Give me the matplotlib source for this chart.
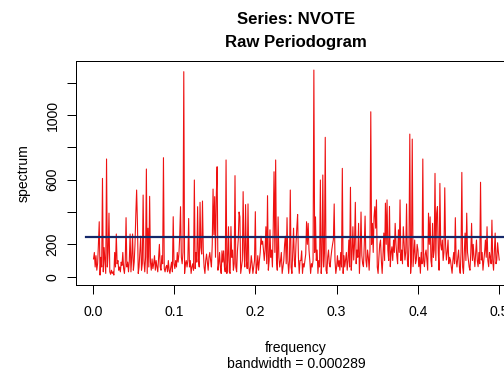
import numpy as np
import matplotlib
matplotlib.use("Agg")
import matplotlib.pyplot as plt

plt.rcParams['font.family'] = ['Liberation Sans', 'DejaVu Sans']

# Frequencies k/1000, k = 1..500
freq = np.arange(1, 501) / 1000.0

spectrum = [
    110, 150, 60, 130, 40, 80, 200, 340, 10, 120,
    60, 608, 30, 180, 100, 20, 728, 60, 150, 393,
    30, 15, 40, 20, 30, 10, 150, 60, 264, 80,
    100, 40, 60, 30, 90, 70, 150, 50, 20, 90,
    365, 60, 90, 30, 100, 264, 30, 120, 264, 40,
    90, 200, 385, 536, 330, 20, 60, 150, 250, 40,
    80, 505, 100, 30, 120, 666, 20, 300, 60, 497,
    90, 40, 110, 50, 80, 130, 40, 100, 60, 30,
    110, 200, 60, 40, 130, 80, 736, 50, 30, 60,
    70, 30, 100, 40, 20, 60, 90, 30, 371, 80,
    50, 100, 60, 150, 90, 140, 250, 433, 120, 80,
    150, 1268, 20, 80, 100, 60, 100, 360, 60, 100,
    20, 60, 80, 40, 598, 50, 150, 90, 433, 100,
    60, 460, 180, 140, 468, 160, 60, 20, 100, 140,
    90, 40, 120, 150, 100, 60, 200, 542, 260, 495,
    120, 500, 680, 40, 80, 150, 60, 20, 160, 90,
    160, 60, 30, 722, 20, 100, 309, 30, 20, 310,
    120, 165, 40, 80, 625, 60, 30, 160, 230, 400,
    370, 20, 60, 100, 526, 160, 60, 446, 100, 50,
    450, 60, 20, 60, 130, 80, 20, 60, 100, 402,
    20, 60, 130, 40, 100, 150, 250, 200, 220, 165,
    100, 165, 309, 80, 501, 40, 100, 290, 120, 165,
    60, 300, 649, 150, 722, 100, 40, 370, 120, 60,
    100, 150, 20, 60, 100, 200, 250, 80, 365, 100,
    20, 100, 536, 60, 20, 150, 300, 100, 60, 200,
    300, 385, 120, 20, 100, 100, 160, 20, 80, 60,
    100, 140, 340, 200, 330, 165, 100, 20, 80, 60,
    100, 1278, 150, 370, 100, 165, 20, 100, 60, 598,
    20, 100, 629, 60, 150, 862, 40, 20, 120, 165,
    80, 60, 120, 165, 200, 230, 450, 100, 20, 60,
    130, 62, 100, 40, 150, 60, 670, 20, 130, 60,
    103, 150, 40, 100, 227, 60, 553, 40, 140, 309,
    103, 200, 460, 80, 165, 120, 330, 20, 150, 400,
    130, 80, 62, 200, 375, 103, 60, 165, 120, 40,
    165, 1020, 200, 330, 150, 370, 433, 300, 475, 60,
    20, 120, 200, 227, 100, 20, 130, 270, 100, 455,
    200, 475, 165, 100, 435, 62, 150, 185, 100, 227,
    150, 330, 200, 130, 80, 290, 150, 475, 100, 165,
    80, 309, 200, 103, 150, 450, 100, 62, 200, 882,
    21, 100, 851, 62, 150, 227, 80, 103, 200, 165,
    62, 120, 21, 150, 80, 728, 100, 62, 140, 165,
    100, 40, 393, 200, 370, 100, 62, 330, 120, 165,
    639, 100, 393, 433, 150, 40, 577, 200, 165, 227,
    100, 150, 550, 200, 103, 150, 227, 80, 120, 103,
    60, 21, 100, 150, 80, 365, 103, 60, 120, 165,
    60, 21, 150, 645, 60, 21, 150, 270, 100, 393,
    150, 103, 60, 40, 150, 330, 100, 200, 120, 62,
    150, 227, 100, 62, 150, 80, 584, 103, 150, 40,
    100, 150, 227, 120, 309, 100, 62, 150, 120, 80,
    350, 100, 40, 150, 270, 80, 103, 210, 150, 103,
]

ref_level = 245
ref_start = -0.0083

x_ticks = [0.0, 0.1, 0.2, 0.3, 0.4, 0.5]
x_ticklabels = ["0.0", "0.1", "0.2", "0.3", "0.4", "0.5"]
y_ticks = [0, 200, 400, 600, 800, 1000, 1200]
y_ticklabels = ["0", "200", "", "600", "", "1000", ""]

W, H = 504, 374
fig = plt.figure(figsize=(W / 72, H / 72), dpi=72)
left, right, top, bottom = 76.3, 515.5, 61.0, 285.3
ax = fig.add_axes([left / W, 1 - bottom / H, (right - left) / W, (bottom - top) / H])

ax.plot(freq, spectrum, color='#ee1111', lw=1.1)
ax.plot([ref_start, 0.6], [ref_level, ref_level], color='#14286a', lw=2.2)

ax.set_xlim(-0.0202, 0.520)
ax.set_ylim(-53.2, 1334)

ax.set_xticks(x_ticks)
ax.set_xticklabels(x_ticklabels, fontsize=14)
ax.set_yticks(y_ticks)
ax.set_yticklabels(y_ticklabels, fontsize=14, rotation=90, va='center')
ax.tick_params(axis='both', direction='out', length=8.7, width=1, color='black')
ax.tick_params(axis='x', pad=11)
ax.tick_params(axis='y', pad=8)
for s in ax.spines.values():
    s.set_linewidth(1.0)
    s.set_color('black')

def fx(px):
    return px / W
def fy(py):
    return 1 - py / H

cx = (left + right) / 2
fig.text(fx(cx), fy(20), "Series: NVOTE", ha='center', va='center', fontsize=16.8, fontweight='bold')
fig.text(fx(cx), fy(42.7), "Raw Periodogram", ha='center', va='center', fontsize=16.8, fontweight='bold')
fig.text(fx(cx), fy(347.7), "frequency", ha='center', va='center', fontsize=14)
fig.text(fx(cx), fy(364.3), "bandwidth = 0.000289", ha='center', va='center', fontsize=14)
fig.text(fx(23.3), fy((top + bottom) / 2), "spectrum", ha='center', va='center', fontsize=14, rotation=90)

fig.savefig("out.png", dpi=72)
